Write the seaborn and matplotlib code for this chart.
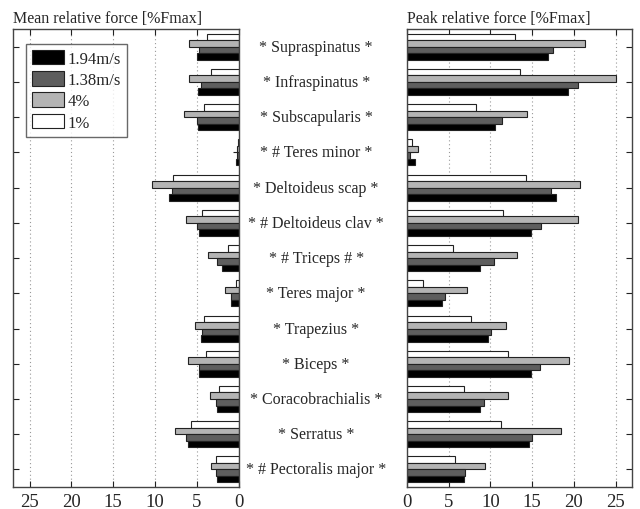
import matplotlib
matplotlib.use("Agg")
import matplotlib.pyplot as plt
import matplotlib.transforms as mtransforms
from matplotlib.patches import Patch
import seaborn as sns
import pandas as pd

muscles = ["* Supraspinatus *", "* Infraspinatus *", "* Subscapularis *",
           "* # Teres minor *", "* Deltoideus scap *", "* # Deltoideus clav *",
           "* # Triceps # *", "* Teres major *", "* Trapezius *", "* Biceps *",
           "* Coracobrachialis *", "* Serratus *", "* # Pectoralis major *"]
series = ["1%", "4%", "1.38m/s", "1.94m/s"]

mean_1 = [3.8, 3.3, 4.2, 0.1, 7.9, 4.4, 1.3, 0.3, 4.2, 3.9, 2.4, 5.7, 2.7]
mean_4 = [6.0, 6.0, 6.5, 0.25, 10.4, 6.3, 3.7, 1.6, 5.2, 6.1, 3.4, 7.6, 3.3]
mean_138 = [4.7, 4.5, 5.0, 0.15, 8.0, 5.0, 2.6, 0.95, 4.4, 4.7, 2.7, 6.3, 2.7]
mean_194 = [5.0, 4.9, 4.9, 0.3, 8.3, 4.8, 2.0, 0.9, 4.45, 4.7, 2.6, 6.1, 2.6]

peak_1 = [12.9, 13.5, 8.3, 0.55, 14.2, 11.5, 5.5, 1.9, 7.7, 12.1, 6.8, 11.3, 5.7]
peak_4 = [21.3, 25.1, 14.4, 1.3, 20.7, 20.5, 13.2, 7.2, 11.9, 19.4, 12.1, 18.4, 9.4]
peak_138 = [17.5, 20.5, 11.4, 0.35, 17.2, 16.1, 10.4, 4.5, 10.1, 15.9, 9.2, 15.0, 7.0]
peak_194 = [16.9, 19.3, 10.6, 0.9, 17.9, 14.9, 8.7, 4.2, 9.7, 14.9, 8.8, 14.6, 6.8]

colors = {"1%": "#ffffff", "4%": "#b4b4b4", "1.38m/s": "#5e5e5e", "1.94m/s": "#000000"}

def long_df(vals):
    rows = []
    for s, v in zip(series, vals):
        for m, x in zip(muscles, v):
            rows.append({"muscle": m, "series": s, "value": x})
    return pd.DataFrame(rows)

df_mean = long_df([mean_1, mean_4, mean_138, mean_194])
df_peak = long_df([peak_1, peak_4, peak_138, peak_194])

sns.set_theme(style="white")
plt.rcParams["font.family"] = ["Liberation Serif", "DejaVu Serif"]

fig = plt.figure(figsize=(6.4, 5.1), dpi=100)
ax1 = fig.add_axes([0.020, 0.043, 0.353, 0.898])
ax2 = fig.add_axes([0.636, 0.043, 0.352, 0.898])

for ax, df in ((ax1, df_mean), (ax2, df_peak)):
    sns.barplot(data=df, x="value", y="muscle", hue="series", hue_order=series,
                order=muscles, palette=colors, orient="h", width=0.74,
                edgecolor="#222222", linewidth=0.8, ax=ax, legend=False,
                errorbar=None, saturation=1)
    ax.set_xticks([0, 5, 10, 15, 20, 25])
    ax.set_xticklabels(["0", "5", "10", "15", "20", "25"])
    ax.set_yticks(range(len(muscles)))
    ax.set_yticklabels([])
    ax.set_xlabel("")
    ax.set_ylabel("")
    ax.tick_params(direction="in", top=True, right=True, left=True, bottom=True,
                   length=4, width=0.8, color="#222222", labelsize=13.5, pad=4)
    ax.grid(axis="x", linestyle=(0, (1, 2.5)), color="#999999", linewidth=0.8)
    ax.grid(axis="y", visible=False)
    ax.set_axisbelow(True)
    for sp in ax.spines.values():
        sp.set_visible(True)
        sp.set_color("#444444")
        sp.set_linewidth(1.0)
    ax.set_ylim(len(muscles) - 0.5, -0.5)

ax1.set_xlim(27, 0)
ax2.set_xlim(0, 27)

ax1.set_title("Mean relative force [%Fmax]", loc="left", fontsize=11.5, pad=5)
ax2.set_title("Peak relative force [%Fmax]", loc="left", fontsize=11.5, pad=5)

trans = mtransforms.blended_transform_factory(fig.transFigure, ax2.transData)
for i, m in enumerate(muscles):
    ax2.text(0.494, i, m, transform=trans, ha="center", va="center",
             fontsize=11.5, clip_on=False)

handles = [Patch(facecolor=colors[s], edgecolor="#222222", linewidth=0.8)
           for s in series[::-1]]
leg = ax1.legend(handles, series[::-1], loc="upper left",
                 bbox_to_anchor=(0.058, 0.968), fontsize=12, frameon=True,
                 fancybox=False, handlelength=1.95, handleheight=1.0,
                 handletextpad=0.2, labelspacing=0.25, borderpad=0.35,
                 borderaxespad=0.0)
leg.get_frame().set_edgecolor("#444444")
leg.get_frame().set_linewidth(1.0)

fig.savefig("out.png", dpi=100)
